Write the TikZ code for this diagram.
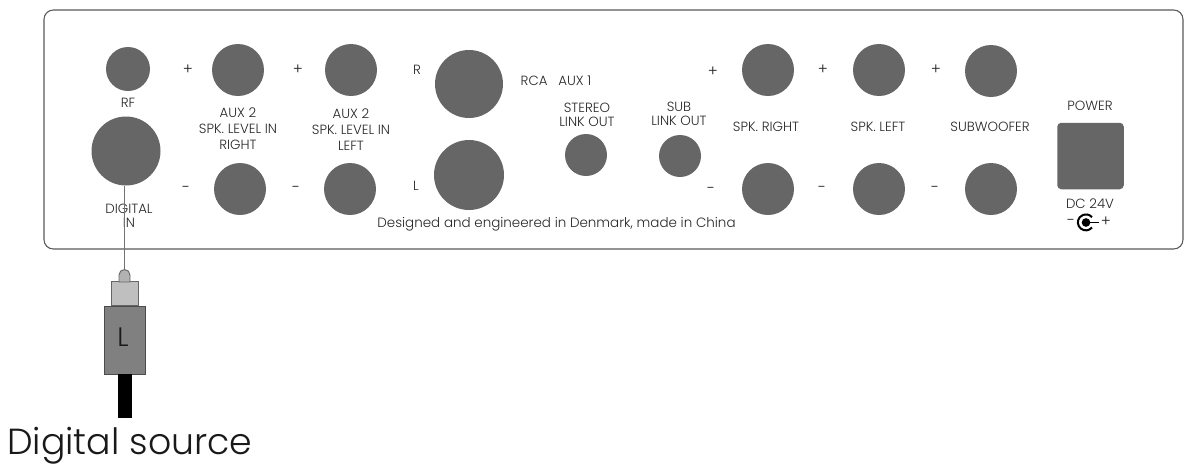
\documentclass[tikz,border=0pt]{standalone}
\usepackage{fontspec}
\setmainfont[UprightFont=*-Light]{Poppins}
\tikzset{x=0.75pt,y=-0.75pt,
  jack/.style={circle,fill=jackgray,draw=none,inner sep=0pt,minimum size=#1*0.75pt},
  lab/.style={font=\fontsize{10}{12}\selectfont,align=center,text=black!85,inner sep=0pt},
  tight/.style={font=\fontsize{10}{10.5}\selectfont,align=center,text=black!85,inner sep=0pt},
  sign/.style={font=\fontsize{11.5}{12}\selectfont,text=black!85,inner sep=0pt}}
\definecolor{jackgray}{HTML}{666666}
\begin{document}
\begin{tikzpicture}
\useasboundingbox (0,0) rectangle (1186,465);
\node[draw=black!65,line width=0.8pt,rounded corners=7pt,minimum width=1139*0.75pt,minimum height=239*0.75pt,inner sep=0pt] (panel) at (613.5,129.5) {};
\node[jack=44] (rf) at (128,69) {};
\node[jack=52] (a2rp) at (238,70) {};
\node[jack=52] (a2rm) at (240,189) {};
\node[jack=52] (a2lp) at (351,70) {};
\node[jack=52] (a2lm) at (350,189) {};
\node[jack=68] (rcar) at (469,84) {};
\node[jack=70] (rcal) at (469,175) {};
\node[jack=42] (stereo) at (586,155) {};
\node[jack=42] (sub) at (680,156) {};
\node[jack=52] (srp) at (768,70) {};
\node[jack=52] (srm) at (768,189) {};
\node[jack=52] (slp) at (879,70) {};
\node[jack=52] (slm) at (879,189) {};
\node[jack=52] (swp) at (991,71) {};
\node[jack=52] (swm) at (991,189) {};
\node[jack=69] (dig) at (126,151) {};
\node[fill=jackgray,rounded corners=3pt,minimum size=66.5*0.75pt,inner sep=0pt] (pwr) at (1090.5,156) {};
% labels
\node[lab] (lrf) at (128,103) {RF};
\node[tight] (ldig) at (129,216) {DIGITAL\\IN};
\node[lab] (la2r) at (238,129) {AUX 2\\SPK. LEVEL IN\\RIGHT};
\node[lab] (la2l) at (351,130) {AUX 2\\SPK. LEVEL IN\\LEFT};
\node[lab] (lr) at (417,70) {R};
\node[lab] (ll) at (416,186) {L};
\node[lab] (lrca) at (556,81) {RCA\ \ \ AUX 1};
\node[tight] (lst) at (587,115) {STEREO\\LINK OUT};
\node[tight] (lsub) at (679,114) {SUB\\LINK OUT};
\node[lab] (lsr) at (766,127) {SPK. RIGHT};
\node[lab] (lsl) at (878,127) {SPK. LEFT};
\node[lab] (lsw) at (990,127) {SUBWOOFER};
\node[lab] (lpw) at (1090,106) {POWER};
\node[lab] (ldc) at (1090,204) {DC 24V};
\node[lab,font=\fontsize{10.1}{11}\selectfont] (ldes) at (556.5,224.5) {Designed and engineered in Denmark, made in China};
\foreach \n/\x/\y in {a/188/70,b/298/70,c/713/72,d/823/70,e/936/70}
  \node[sign] (p\n) at (\x,\y) {+};
\foreach \n/\x/\y in {a/186/189,b/296/189,c/711/190,d/822/189,e/935/189}
  \node[sign] (m\n) at (\x,\y) {-};
% DC symbol
\node[sign] (dcm) at (1071,222) {-};
\node[sign] (dcp) at (1106,222) {+};
\node[circle,fill=black,inner sep=0pt,minimum size=6.5pt] (dcc) at (1086,222.5) {};
\draw[line width=1.5pt] (1092,227.5) arc[start angle=40,end angle=320,radius=8];
\draw[line width=1.3pt] (dcc.center) -- (1099,222.5);
% plug
\node[draw=black!70,line width=0.7pt,minimum width=41*0.75pt,minimum height=68*0.75pt,inner sep=0pt,fill=black!50] (body) at (124.5,340) {};
\node[font=\fontsize{20}{22}\selectfont,text=black!90,inner sep=0pt] (lplug) at (123,337) {L};
\node[draw=black!60,fill=black!25,line width=0.7pt,minimum width=27*0.75pt,minimum height=24*0.75pt,inner sep=0pt,anchor=south] (collar) at (124.5,306) {};
\draw[draw=black!60,fill=black!30,line width=0.7pt] (119,282) -- (119,275) arc[start angle=180,end angle=360,radius=5.5] -- (130,282) -- cycle;
\coordinate (tip) at (124.5,269.5);
\draw[black!55,line width=0.8pt] (tip |- dig.south) -- (tip);
\node[fill=black,inner sep=0pt,minimum width=14*0.75pt,minimum height=44*0.75pt,anchor=north] (cable) at (125,374) {};
\node[font=\fontsize{27.2}{30}\selectfont,text=black!90,inner sep=0pt,anchor=base west] (src) at (7,454.5) {Digital source};
\end{tikzpicture}
\end{document}
